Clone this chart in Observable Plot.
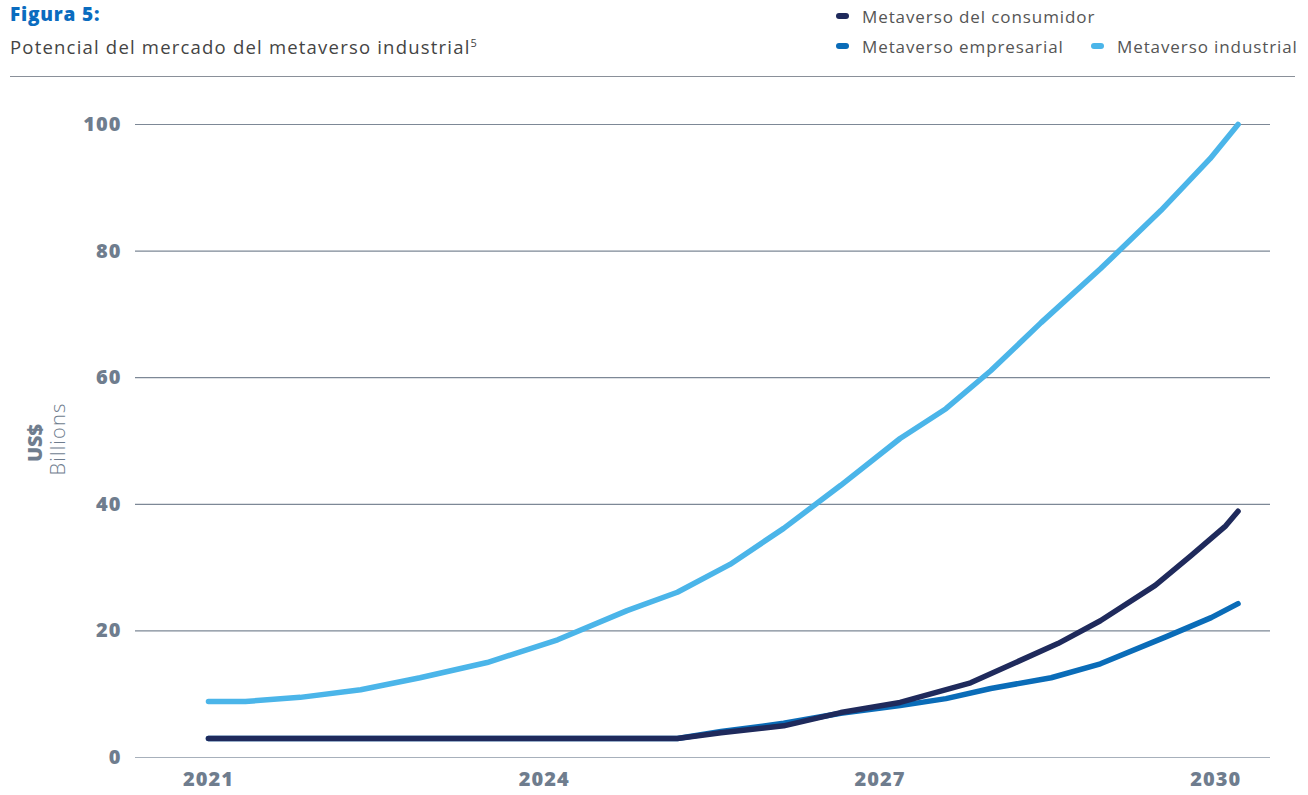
<!DOCTYPE html>
<html>
<head>
<meta charset="utf-8">
<script src="https://cdn.jsdelivr.net/npm/d3@7"></script>
<script src="https://cdn.jsdelivr.net/npm/@observablehq/plot@0.6"></script>
<style>
  html, body { margin: 0; padding: 0; background: #fff; }
  body { width: 1308px; height: 795px; position: relative; overflow: hidden; font-family: "Open Sans", "Noto Sans", sans-serif; }
  #title { position: absolute; left: 10px; top: 1px; font-size: 19px; font-weight: 800; color: #0a6cbf; letter-spacing: 0.8px; }
  #subtitle { position: absolute; left: 10px; top: 34px; font-size: 18.5px; color: #444; letter-spacing: 1.2px; }
  #subtitle sup { font-size: 11px; letter-spacing: 0; }
  #rule { position: absolute; left: 10px; top: 76px; width: 1285px; height: 1px; background: #8a9099; }
  .leg { position: absolute; font-size: 17px; color: #555; white-space: nowrap; letter-spacing: 0.9px; }
  .sw { display: inline-block; width: 13px; height: 6px; border-radius: 3px; margin-right: 13px; vertical-align: middle; position: relative; top: -2px; }
  #chart { position: absolute; left: 0; top: 80px; }
  #chart svg g[aria-label="x-axis tick label"] text, #chart svg g[aria-label="y-axis tick label"] text { letter-spacing: 1px; }
</style>
</head>
<body>
<div id="title">Figura 5:</div>
<div id="subtitle">Potencial del mercado del metaverso industrial<sup>5</sup></div>
<div id="legend"></div>
<div id="rule"></div>
<div id="chart"></div>
<script>
const seriesNames = ["Metaverso del consumidor", "Metaverso empresarial", "Metaverso industrial"];
const seriesColors = ["#1f2a5c", "#0a6cb8", "#4bb5e9"];

const industrialYears = [2021, 2021.33, 2021.82, 2022.36, 2022.89, 2023.49, 2024.12, 2024.74, 2025.19, 2025.66, 2026.14, 2026.65, 2027.18, 2027.59, 2027.99, 2028.44, 2028.97, 2029.51, 2029.95, 2030.20];
const industrialValues = [8.85, 8.85, 9.5, 10.7, 12.6, 15, 18.6, 23.2, 26.1, 30.5, 36.2, 43, 50.4, 55.1, 61.1, 68.7, 77.2, 86.4, 94.6, 100];

const consumerYears = [2021, 2025.19, 2025.58, 2026.14, 2026.65, 2027.18, 2027.81, 2028.59, 2028.97, 2029.46, 2029.78, 2030.09, 2030.20];
const consumerValues = [3, 3, 3.9, 5.0, 7.1, 8.7, 11.8, 18, 21.6, 27.2, 31.9, 36.6, 38.9];

const enterpriseYears = [2021, 2025.19, 2025.58, 2026.14, 2026.65, 2027.18, 2027.59, 2027.99, 2028.53, 2028.97, 2029.56, 2029.96, 2030.20];
const enterpriseValues = [3, 3, 4.1, 5.4, 7.0, 8.2, 9.3, 10.9, 12.6, 14.8, 19.1, 22.1, 24.3];

const xTicks = [2021, 2024, 2027, 2030];
const yTicks = [0, 20, 40, 60, 80, 100];
const yLabelMain = "US$";
const yLabelSub = "Billions";

// Build tables
const toRows = (name, xs, ys) => xs.map((x, i) => ({series: name, year: x, value: ys[i]}));
const industrial = toRows(seriesNames[2], industrialYears, industrialValues);
const enterprise = toRows(seriesNames[1], enterpriseYears, enterpriseValues);
const consumer = toRows(seriesNames[0], consumerYears, consumerValues);

// Legend
const legendPos = [{left: 836, top: 5}, {left: 836, top: 35}, {left: 1091, top: 35}];
const legend = document.getElementById("legend");
seriesNames.forEach((n, i) => {
  const d = document.createElement("div");
  d.className = "leg";
  d.style.left = legendPos[i].left + "px";
  d.style.top = legendPos[i].top + "px";
  d.innerHTML = `<span class="sw" style="background:${seriesColors[i]}"></span>${n}`;
  legend.appendChild(d);
});

const tickColor = "#6f7d8e";
const lineOpts = (c) => ({x: "year", y: "value", stroke: c, strokeWidth: 5.5, strokeLinecap: "round", strokeLinejoin: "round"});

const plot = Plot.plot({
  width: 1308,
  height: 715,
  marginLeft: 135,
  marginRight: 38,
  marginTop: 44,
  marginBottom: 38,
  style: {fontFamily: "'Open Sans', sans-serif", background: "transparent"},
  x: {domain: [2020.348, 2030.49]},
  y: {domain: [0, 100]},
  marks: [
    Plot.ruleY(yTicks, {stroke: (d) => d === 0 ? "#a7b0bb" : "#7d8896", strokeWidth: 1.2}),
    Plot.axisY({ticks: yTicks, tickSize: 0, tickPadding: 14, fontSize: 20, fontWeight: 800, fill: tickColor, label: null}),
    Plot.axisX({ticks: xTicks, tickSize: 0, tickPadding: 14, fontSize: 20, fontWeight: 800, fill: tickColor, label: null, tickFormat: d3.format("d")}),
    Plot.text([yLabelMain], {frameAnchor: "left", textAnchor: "middle", dx: -100, dy: 2, rotate: -90, fontSize: 20, fontWeight: 800, fill: tickColor}),
    Plot.text([yLabelSub], {frameAnchor: "left", textAnchor: "middle", dx: -77, dy: -2, rotate: -90, fontSize: 20, fontWeight: 300, fill: tickColor}),
    Plot.line(enterprise, lineOpts(seriesColors[1])),
    Plot.line(consumer, lineOpts(seriesColors[0])),
    Plot.line(industrial, lineOpts(seriesColors[2]))
  ]
});
document.getElementById("chart").appendChild(plot);
d3.select(plot).selectAll("text").filter(function() { return this.textContent === yLabelSub; }).style("letter-spacing", "1.2px");
</script>
</body>
</html>
